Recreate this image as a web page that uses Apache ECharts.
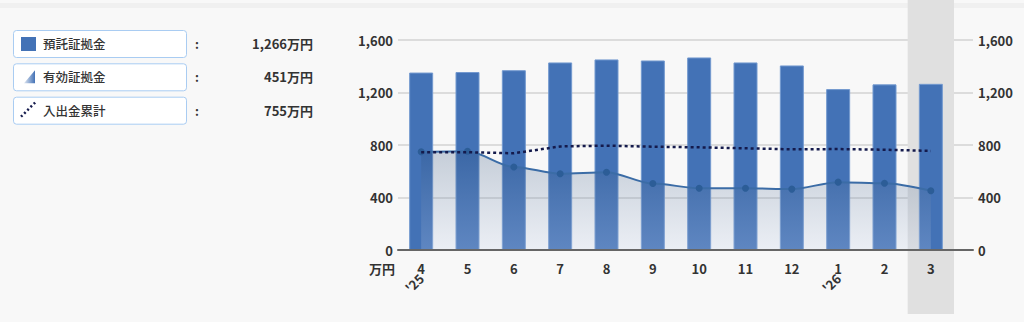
<!DOCTYPE html>
<html><head><meta charset="utf-8">
<script src="https://cdn.jsdelivr.net/npm/echarts@6/dist/echarts.min.js"></script>
<style>html,body{margin:0;padding:0;background:#f8f8f8;}#c{width:1024px;height:322px;}</style>
</head><body><div id="c"></div>
<script>
// ---- data ----
const months = ['4','5','6','7','8','9','10','11','12','1','2','3'];
const yearMarks = ["'25",'','','','','','','','',"'26",'',''];
const deposit = [1352,1356,1370,1429,1452,1444,1467,1429,1406,1226,1262,1266];     // 預託証拠金
const effective = [748,752,633,581,593,506,471,471,464,517,509,451];                // 有効証拠金
const cumulative = [745,745,737,789,795,787,782,775,767,769,764,755];               // 入出金累計
const yTicks = [0,400,800,1200,1600];
const highlightIndex = 11;
const legendNames = ['預託証拠金','有効証拠金','入出金累計'];
const unit = '万円';

const FONT = '"Noto Sans CJK JP","Noto Sans",sans-serif';
const BAR = '#4372b6';
const chart = echarts.init(document.getElementById('c'), null, {renderer:'svg'});

const latest = [deposit, effective, cumulative].map(a => a[a.length-1]);
const fmt = v => v.toLocaleString('en-US') + unit;

const legendTops = [30, 63.3, 96.7];
const graphics = [
  {type:'rect', z:-10, shape:{x:0,y:3,width:1024,height:5}, style:{fill:'#f0f0f0'}}
];
legendTops.forEach((t, i) => {
  graphics.push({type:'rect', shape:{x:13.5,y:t+0.5,width:173,height:27,r:3},
    style:{fill:'#ffffff', stroke:'#a9ccf2', lineWidth:1}});
  if (i === 0) {
    graphics.push({type:'rect', shape:{x:21,y:t+7,width:15,height:14}, style:{fill:BAR}});
  } else if (i === 1) {
    graphics.push({type:'polygon', shape:{points:[[24,t+20],[35,t+20],[35,t+7]]},
      style:{fill:new echarts.graphic.LinearGradient(0,0,1,0,[{offset:0,color:'#dfe6f1'},{offset:1,color:BAR}])}});
  } else {
    graphics.push({type:'line', shape:{x1:21,y1:t+20,x2:36,y2:t+5},
      style:{stroke:'#161c4e', lineWidth:2.5, lineDash:[2,2.5]}});
  }
  const ty = t + 13.5;
  graphics.push({type:'text', x:43, y:ty, style:{text:legendNames[i], fill:'#333',
    font:'500 12.5px '+FONT, textAlign:'left', textVerticalAlign:'middle', align:'left', verticalAlign:'middle'}});
  graphics.push({type:'text', x:197, y:ty, style:{text:':', fill:'#333',
    font:'bold 12px '+FONT, textAlign:'center', textVerticalAlign:'middle', align:'center', verticalAlign:'middle'}});
  graphics.push({type:'text', x:313, y:ty, style:{text:fmt(latest[i]), fill:'#333',
    font:'bold 13px '+FONT, textAlign:'right', textVerticalAlign:'middle', align:'right', verticalAlign:'middle'}});
});

const axisLabelStyle = {color:'#333', fontWeight:'bold', fontSize:13, fontFamily:FONT};

chart.setOption({
  backgroundColor:'#f8f8f8',
  animation:false,
  graphic: graphics,
  grid:[
    {left:398, width:556, top:40, height:210},
    {left:398, width:575, top:40, height:210},
    {left:398, width:556, top:0, height:314}
  ],
  xAxis:[
    {gridIndex:0, type:'category', data:months, axisLine:{show:false}, axisTick:{show:false},
     axisLabel:Object.assign({interval:0, margin:12}, axisLabelStyle)},
    {gridIndex:0, type:'category', data:months, position:'bottom', axisLine:{show:false}, axisTick:{show:false},
     axisLabel:Object.assign({interval:0, margin:26, rotate:45, formatter:(v,i)=>yearMarks[i]}, axisLabelStyle)},
    {gridIndex:1, type:'value', min:0, max:1, z:10,
     axisLine:{show:true, onZero:false, lineStyle:{color:'#666', width:2}},
     axisTick:{show:false}, axisLabel:{show:false}, splitLine:{show:false}},
    {gridIndex:2, type:'category', data:months, show:false}
  ],
  yAxis:[
    {gridIndex:0, type:'value', min:yTicks[0], max:yTicks[yTicks.length-1], show:false},
    {gridIndex:1, type:'value', position:'left', min:yTicks[0], max:yTicks[yTicks.length-1], interval:yTicks[1]-yTicks[0],
     name:unit, nameLocation:'start', nameGap:18,
     nameTextStyle:Object.assign({align:'right', verticalAlign:'middle', padding:[0,3,0,0]}, axisLabelStyle),
     axisLine:{show:false}, axisTick:{show:false},
     axisLabel:Object.assign({margin:5, formatter:v=>v.toLocaleString('en-US')}, axisLabelStyle),
     splitLine:{show:true, lineStyle:{color:'#dcdcdc', width:2}}},
    {gridIndex:1, type:'value', position:'right', min:yTicks[0], max:yTicks[yTicks.length-1], interval:yTicks[1]-yTicks[0],
     axisLine:{show:false}, axisTick:{show:false},
     axisLabel:Object.assign({margin:5, formatter:v=>v.toLocaleString('en-US')}, axisLabelStyle),
     splitLine:{show:false}},
    {gridIndex:2, type:'value', min:0, max:1, show:false}
  ],
  series:[
    {type:'bar', xAxisIndex:3, yAxisIndex:3, silent:true, z:0, barWidth:'100%',
     data:months.map((m,i)=> i===highlightIndex ? 1 : null), itemStyle:{color:'#e0e0e0'}},
    {name:legendNames[0], type:'bar', xAxisIndex:0, yAxisIndex:0, z:2, barWidth:24, data:deposit,
     itemStyle:{color:BAR, borderColor:'#7399cf', borderWidth:1}},
    {name:legendNames[1], type:'line', xAxisIndex:0, yAxisIndex:0, z:3, data:effective,
     smooth:0.3, smoothMonotone:'x', symbol:'circle', symbolSize:7,
     lineStyle:{color:'#3b6ca6', width:2}, itemStyle:{color:'#2c5d97'},
     areaStyle:{color:new echarts.graphic.LinearGradient(0,0,0,1,[
       {offset:0, color:'rgba(35,70,115,0.34)'},
       {offset:1, color:'rgba(190,205,232,0.32)'}])}},
    {name:legendNames[2], type:'line', xAxisIndex:0, yAxisIndex:0, z:4, data:cumulative,
     symbol:'none', lineStyle:{color:'#141a4c', width:2.5, type:[3,3]}}
  ]
});
</script></body></html>
